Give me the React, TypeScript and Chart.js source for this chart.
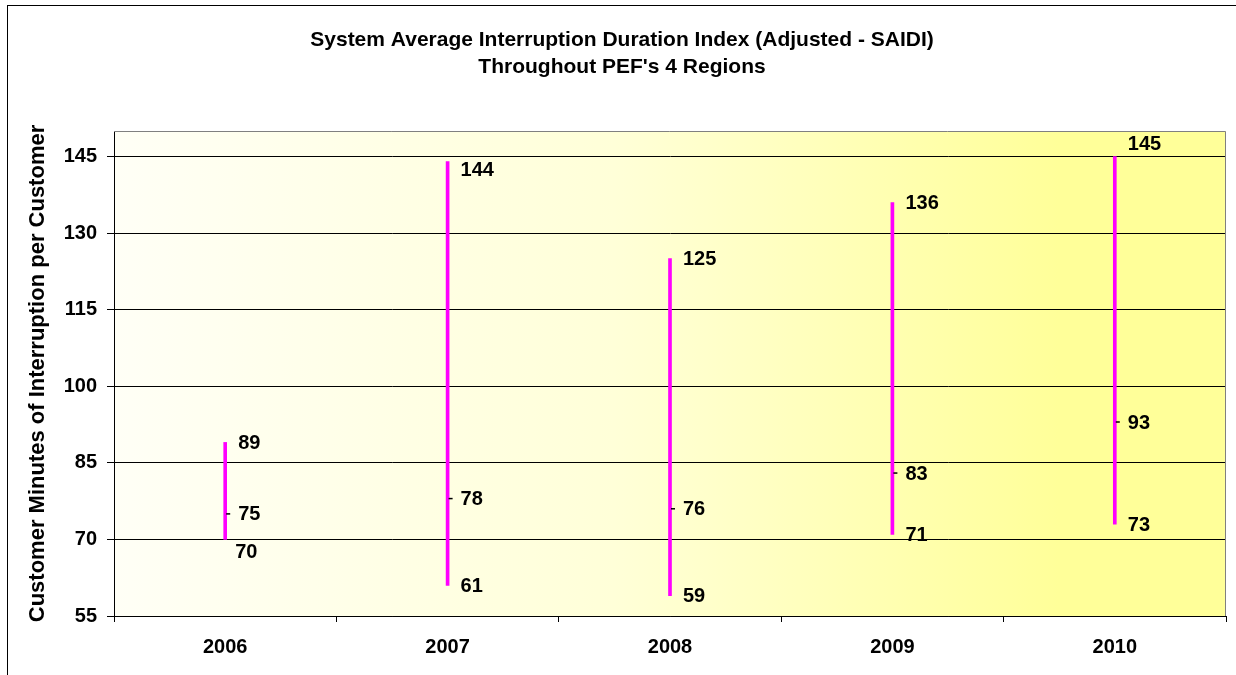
import React, { useEffect, useRef } from 'react';
import { Chart, registerables } from 'chart.js';

Chart.register(...registerables);

const years = ['2006', '2007', '2008', '2009', '2010'];
const highValues = [89, 144, 125, 136, 145];
const lowValues = [70, 61, 59, 71, 73];
const closeValues = [75, 78, 76, 83, 93];
const yTickValues = [55, 70, 85, 100, 115, 130, 145];
const titleLines = [
  'System Average Interruption Duration Index (Adjusted - SAIDI)',
  "Throughout PEF's 4 Regions",
];
const yAxisTitle = 'Customer Minutes of Interruption per Customer';

const FONT = '"Liberation Sans", Arial, sans-serif';

const decorPlugin = {
  id: 'hlcDecor',
  beforeDraw(chart: any) {
    const { ctx, chartArea, width, height } = chart;
    ctx.save();
    ctx.fillStyle = '#ffffff';
    ctx.fillRect(0, 0, width, height);
    // outer chart border
    ctx.strokeStyle = '#000000';
    ctx.lineWidth = 1;
    ctx.strokeRect(7.5, 5.5, width + 20, height + 20);
    // plot background gradient
    const g = ctx.createLinearGradient(chartArea.left, 0, chartArea.right, 0);
    g.addColorStop(0, '#FFFFF6');
    g.addColorStop(0.45, '#FFFFD8');
    g.addColorStop(0.85, '#FFFF99');
    g.addColorStop(1, '#FFFF99');
    ctx.fillStyle = g;
    ctx.fillRect(chartArea.left, chartArea.top, chartArea.right - chartArea.left, chartArea.bottom - chartArea.top);
    // title
    ctx.fillStyle = '#000000';
    ctx.font = `bold 21px ${FONT}`;
    ctx.textAlign = 'center';
    ctx.textBaseline = 'middle';
    ctx.fillText(titleLines[0], 622, 40);
    ctx.fillText(titleLines[1], 622, 67);
    ctx.restore();
  },
  afterDraw(chart: any) {
    const { ctx, chartArea } = chart;
    const xScale = chart.scales.x;
    const yScale = chart.scales.y;
    const gridPx = yTickValues.map((v) => yScale.getPixelForValue(v));
    ctx.save();
    // plot border top and right (grey)
    ctx.strokeStyle = '#808080';
    ctx.lineWidth = 1;
    ctx.beginPath();
    ctx.moveTo(chartArea.left, chartArea.top + 0.5);
    ctx.lineTo(chartArea.right - 0.5, chartArea.top + 0.5);
    ctx.lineTo(chartArea.right - 0.5, chartArea.bottom);
    ctx.stroke();

    ctx.font = `bold 20px ${FONT}`;
    ctx.textAlign = 'left';
    ctx.textBaseline = 'middle';
    years.forEach((_, i) => {
      const x = xScale.getPixelForValue(i);
      let yh = yScale.getPixelForValue(highValues[i]);
      const yl = yScale.getPixelForValue(lowValues[i]);
      const yc = yScale.getPixelForValue(closeValues[i]);
      // close tick
      ctx.strokeStyle = '#000000';
      ctx.lineWidth = 1.5;
      ctx.beginPath();
      ctx.moveTo(x + 1, yc);
      ctx.lineTo(x + 5, yc);
      ctx.stroke();
      // keep high labels off grid lines
      for (const gp of gridPx) {
        if (Math.abs(yh - gp) < 8) {
          yh = yh - gp > 0.5 ? gp + 13 : gp - 13;
          break;
        }
      }
      ctx.fillStyle = '#000000';
      ctx.fillText(String(highValues[i]), x + 13, yh + 1);
      ctx.fillText(String(closeValues[i]), x + 13, yc + 1);
      const crowded = yl - yc < 30;
      ctx.fillText(String(lowValues[i]), crowded ? x + 10 : x + 13, (crowded ? yl + 12 : yl) + 1);
    });
    ctx.restore();
  },
};

export default function App() {
  const canvasRef = useRef<HTMLCanvasElement | null>(null);

  useEffect(() => {
    if (!canvasRef.current) return;
    Chart.defaults.font.family = FONT;
    const chart = new Chart(canvasRef.current, {
      type: 'bar',
      data: {
        labels: years,
        datasets: [
          {
            type: 'bar',
            label: 'High-Low',
            data: years.map((_, i) => [lowValues[i], highValues[i]]) as any,
            backgroundColor: '#FF00FF',
            borderWidth: 0,
            borderSkipped: false,
            barThickness: 3,
          },
          {
            type: 'line',
            label: 'Close',
            data: closeValues,
            showLine: false,
            pointRadius: 0,
            pointHoverRadius: 0,
          } as any,
        ],
      },
      options: {
        responsive: false,
        animation: false,
        events: [],
        layout: { padding: { left: 0, right: 10, top: 131, bottom: 0 } },
        plugins: {
          legend: { display: false },
          title: { display: false },
          tooltip: { enabled: false },
        },
        scales: {
          x: {
            type: 'category',
            offset: true,
            grid: {
              offset: true,
              drawOnChartArea: false,
              drawTicks: true,
              tickLength: 6,
              color: '#000000',
              lineWidth: 1,
            },
            border: { display: true, color: '#000000', width: 1 },
            ticks: {
              color: '#000000',
              font: { size: 20, weight: 'bold', family: FONT },
              padding: 13,
              maxRotation: 0,
            },
            afterFit: (s: any) => {
              s.height = 59;
            },
          },
          y: {
            type: 'linear',
            min: 55,
            max: 150,
            afterBuildTicks: (s: any) => {
              s.ticks = yTickValues.map((v) => ({ value: v }));
            },
            afterFit: (s: any) => {
              s.width = 114;
            },
            grid: {
              color: '#000000',
              lineWidth: 1,
              drawTicks: true,
              tickLength: 7,
            },
            border: { display: true, color: '#000000', width: 1 },
            ticks: {
              color: '#000000',
              font: { size: 20, weight: 'bold', family: FONT },
              padding: 10,
            },
            title: {
              display: true,
              text: yAxisTitle,
              color: '#000000',
              font: { size: 22, weight: 'bold', family: FONT },
              padding: { top: 25, bottom: 0 },
            },
          },
        },
      },
      plugins: [decorPlugin],
    });
    return () => chart.destroy();
  }, []);

  return (
    <div style={{ position: 'absolute', left: 0, top: 0, width: 1236, height: 675 }}>
      <canvas ref={canvasRef} width={1236} height={675} style={{ display: 'block' }} />
    </div>
  );
}
